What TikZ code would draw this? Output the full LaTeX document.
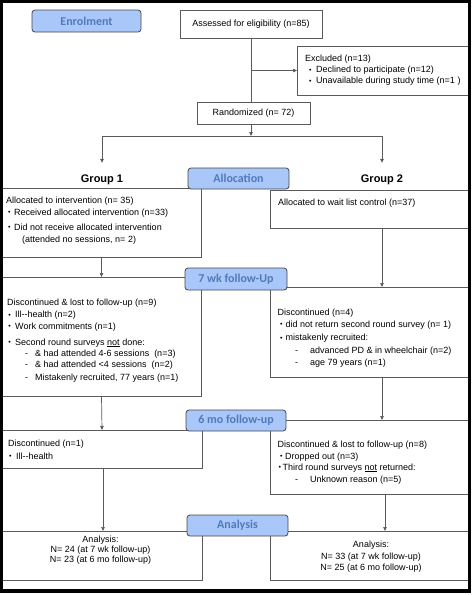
\documentclass[tikz,border=0pt]{standalone}
\usepackage{fontspec}
\setmainfont{Liberation Sans}
\newfontfamily\stagefont{Carlito}
\usetikzlibrary{arrows.meta,calc}
\definecolor{stagefill}{RGB}{170,199,250}
\definecolor{stagetext}{RGB}{80,122,186}
\definecolor{stageborder}{RGB}{70,70,70}
\definecolor{linegray}{RGB}{90,90,90}
\newcommand\bul[1][6.5]{\makebox[#1pt][l]{\raisebox{0.3pt}{\fontsize{7}{7}\selectfont\textbullet}}}
\newcommand\dsh[1]{\makebox[#1pt][l]{-}}
\begin{document}
\begin{tikzpicture}[x=1pt,y=-1pt,
  box/.style={draw=linegray,line width=0.8pt,anchor=north west,inner sep=0,outer sep=0,font=\fontsize{9}{10}\selectfont},
  stage/.style={draw=stageborder,line width=0.8pt,fill=stagefill,rounded corners=3pt,anchor=north west,inner sep=0,outer sep=0,text=stagetext,font=\stagefont\bfseries\fontsize{12}{12}\selectfont},
  txt/.style={anchor=base west,inner sep=0,font=\fontsize{9}{10}\selectfont},
  ctxt/.style={anchor=base,inner sep=0,font=\fontsize{9}{10}\selectfont},
  grp/.style={inner xsep=0,inner ysep=11pt,text height=8pt,text depth=0pt,font=\bfseries\fontsize{11}{11}\selectfont},
  arr/.style={draw=linegray,line width=0.7pt,-{Triangle[length=4pt,width=3.5pt]}},
  ln/.style={draw=linegray,line width=0.7pt}]
\useasboundingbox (0,0) rectangle (473,595);
% boxes
\node[box,minimum width=142pt,minimum height=28pt] (assess) at (180,10) {Assessed for eligibility (n=85)};
\node[box,minimum width=171pt,minimum height=49pt] (excl) at (297,46) {};
\node[box,minimum width=113pt,minimum height=22pt] (rand) at (197,102) {Randomized (n= 72)};
\node[box,minimum width=199pt,minimum height=69pt] (g1a) at (2,188) {};
\node[box,minimum width=198pt,minimum height=38pt] (g2a) at (270,190) {};
\node[box,minimum width=199pt,minimum height=119pt] (g1b) at (2,277) {};
\node[box,minimum width=198pt,minimum height=90pt] (g2b) at (270,287) {};
\node[box,minimum width=200pt,minimum height=38pt] (g1c) at (2,430) {};
\node[box,minimum width=198pt,minimum height=74pt] (g2c) at (270,420) {};
\node[box,minimum width=200pt,minimum height=49pt] (g1d) at (2,531) {};
\node[box,minimum width=198pt,minimum height=49pt] (g2d) at (270,531) {};
% group labels
\node[grp] (grp1) at (102,178) {Group 1};
\node[grp] (grp2) at (382,178) {Group 2};
% stage labels
\node[stage,minimum width=109pt,minimum height=22pt] (enrol) at (32,10) {Enrolment};
\node[stage,minimum width=101pt,minimum height=21pt] (alloc) at (188,168) {Allocation};
\node[stage,minimum width=102pt,minimum height=22pt] (wk7) at (185,268) {7 wk follow-Up};
\node[stage,minimum width=100pt,minimum height=21pt] (mo6) at (186,410) {6 mo follow-up};
\node[stage,minimum width=101pt,minimum height=21pt] (anal) at (187,515) {Analysis};
% texts
\node[txt] (ex1) at (305,61) {Excluded (n=13)};
\node[txt] (ex2) at (309,72.5) {\bul[7]Declined to participate (n=12)};
\node[txt] (ex3) at (309,83.5) {\bul[7]Unavailable during study time (n=1 )};
\node[txt] (a1) at (6,203) {Allocated to intervention (n= 35)};
\node[txt] (a2) at (8,215) {\bul[6]Received allocated intervention (n=33)};
\node[txt] (a3) at (8,230) {\bul[6]Did not receive allocated intervention};
\node[txt] (a4) at (22,242) {(attended no sessions, n= 2)};
\node[txt] (b1) at (278,205) {Allocated to wait list control (n=37)};
\node[txt] (c1) at (7,305) {Discontinued \& lost to follow-up (n=9)};
\node[txt] (c2) at (8.3,317.5) {\bul[6.7]Ill-{}-health (n=2)};
\node[txt] (c3) at (8.3,329) {\bul[6.7]Work commitments (n=1)};
\node[txt] (c4) at (8.3,345) {\bul[6.7]Second round surveys \underline{not} done:};
\node[txt] (c5) at (25,356.5) {\dsh{10}\& had attended 4-6 sessions\hspace{5pt}(n=3)};
\node[txt] (c6) at (25,367) {\dsh{10}\& had attended <4 sessions\hspace{5pt}(n=2)};
\node[txt] (c7) at (25,380.5) {\dsh{10}Mistakenly recruited, 77 years (n=1)};
\node[txt] (d1) at (277.5,315) {Discontinued (n=4)};
\node[txt] (d2) at (280,327) {\bul[5.5]did not return second round survey (n= 1)};
\node[txt] (d3) at (280,340.5) {\bul[5.5]mistakenly recruited:};
\node[txt] (d4) at (295,353) {\dsh{15}advanced PD \& in wheelchair (n=2)};
\node[txt] (d5) at (295,365.5) {\dsh{15}age 79 years (n=1)};
\node[txt] (e1) at (8,446) {Discontinued (n=1)};
\node[txt] (e2) at (9,459) {\bul[7]Ill-{}-health};
\node[txt] (f1) at (277.5,447) {Discontinued \& lost to follow-up (n=8)};
\node[txt] (f2) at (280,459) {\bul[5]Dropped out (n=3)};
\node[txt] (f3) at (278.3,470) {\bul[4]Third round surveys \underline{not} returned:};
\node[txt] (f4) at (295,482) {\dsh{15}Unknown reason (n=5)};
\node[ctxt] (h1) at (100.5,542) {Analysis:};
\node[ctxt] (h2) at (100.5,552) {N= 24 (at 7 wk follow-up)};
\node[ctxt] (h3) at (100.5,562) {N= 23 (at 6 mo follow-up)};
\node[ctxt] (k1) at (371,547) {Analysis:};
\node[ctxt] (k2) at (371,559) {N= 33 (at 7 wk follow-up)};
\node[ctxt] (k3) at (371,570) {N= 25 (at 6 mo follow-up)};
% connectors
\coordinate (split) at (251,136);
\draw[ln] (assess.south) -- (assess.south |- rand.north);
\draw[arr] (assess.south |- excl.west) -- (excl.west);
\draw[arr] (assess.south |- rand.south) -- (split);
\draw[arr] (split) -| (grp1.north);
\draw[arr] (split) -| (grp2.north);
\draw[arr] (g1a.south) -- (g1b.north);
\draw[arr] (g2a.south -| grp2) -- (g2b.north -| grp2);
\draw[arr] (g1b.south) -- (g1c.north);
\draw[arr] (g2b.south -| grp2) -- (g2c.north -| grp2);
\draw[arr] ($(g1c.south)+(1,0)$) -- ($(g1d.north)+(1,0)$);
\draw[arr] ($(g2c.south -| grp2)+(3,0)$) -- ($(g2d.north -| grp2)+(3,0)$);
% frame
\draw[line width=3.5pt] (1.7,1.7) rectangle (469.7,591);
\end{tikzpicture}
\end{document}
